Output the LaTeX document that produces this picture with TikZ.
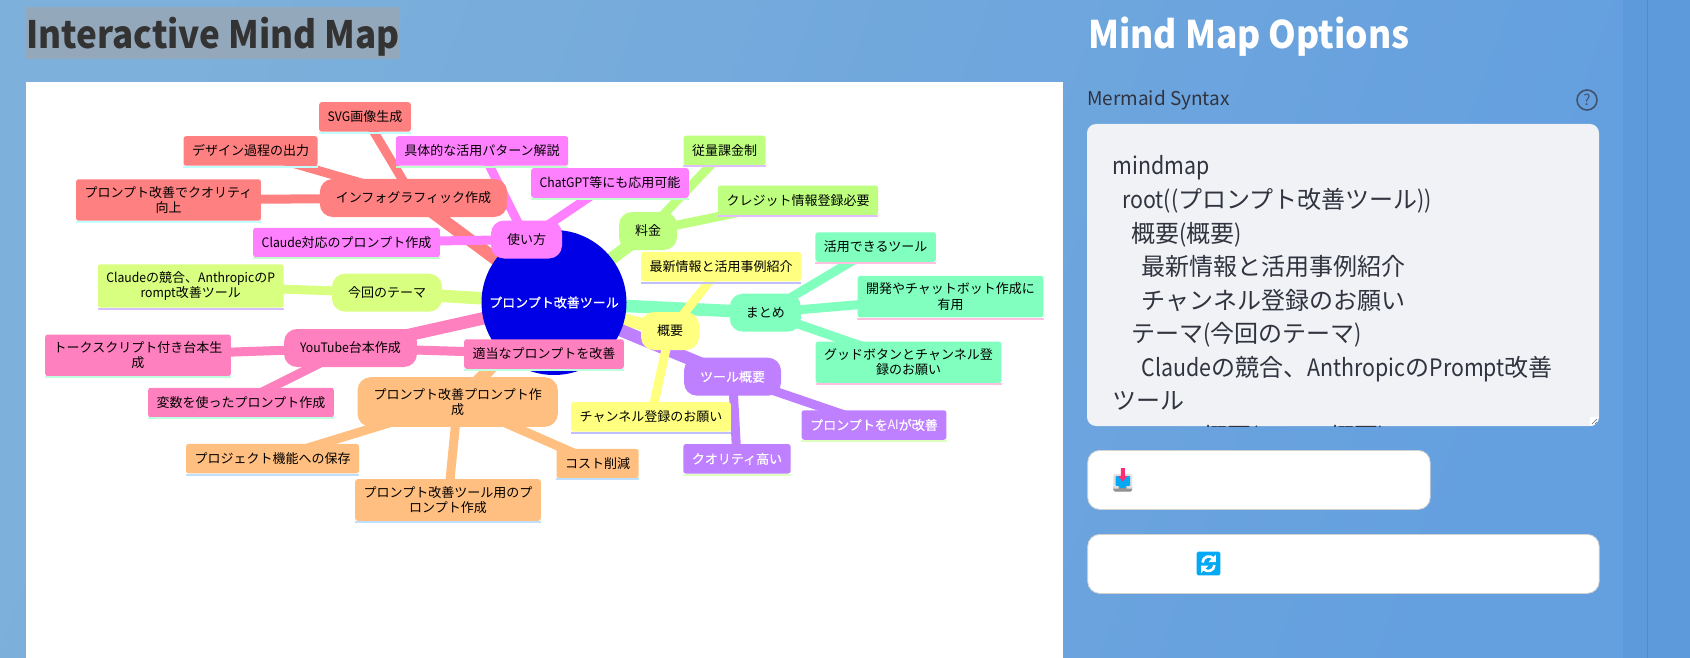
\documentclass[tikz,border=0pt]{standalone}
\usepackage{fontspec}
\setmainfont{Noto Sans CJK JP}
\newfontfamily\latf[FakeStretch=0.94]{Noto Sans CJK JP}
\newfontfamily\codef[FakeStretch=0.89]{Noto Sans CJK JP}
\newfontfamily\headf[FakeStretch=0.93]{Noto Sans CJK JP}
\newfontfamily\whitef[FakeBold=0.5]{Noto Sans CJK JP}
\newcommand{\lat}[1]{{\latf #1}}
\newcommand{\cod}[1]{{\codef #1}}
\definecolor{bgA}{HTML}{7DB0DA}
\definecolor{bgB}{HTML}{649FDF}
\definecolor{stripbg}{HTML}{5C9ADC}
\definecolor{stripline}{HTML}{4F8CC9}
\definecolor{inkdark}{HTML}{31333F}
\definecolor{titlemark}{HTML}{94A8BC}
\definecolor{boxgray}{HTML}{F0F2F6}
\definecolor{iconblue}{HTML}{03A9F4}
\definecolor{iconred}{HTML}{FF2D6F}
\definecolor{rootblue}{HTML}{0000E6}
\definecolor{salmon}{HTML}{FF8080}
\definecolor{salmonb}{HTML}{BFFFFF}
\definecolor{magen}{HTML}{FF80FF}
\definecolor{magenb}{HTML}{BFFFCF}
\definecolor{limey}{HTML}{D9FF80}
\definecolor{limeyb}{HTML}{D4BFFF}
\definecolor{rosy}{HTML}{FF80BF}
\definecolor{rosyb}{HTML}{BFFFDF}
\definecolor{orng}{HTML}{FFBF80}
\definecolor{orngb}{HTML}{BFDFFF}
\definecolor{leafg}{HTML}{BFFF80}
\definecolor{leafgb}{HTML}{DFBFFF}
\definecolor{aqua}{HTML}{80FFBF}
\definecolor{aquab}{HTML}{FFBFDF}
\definecolor{yelo}{HTML}{FFFF80}
\definecolor{yelob}{HTML}{BFBFFF}
\definecolor{purp}{HTML}{BF80FF}
\definecolor{purpb}{HTML}{DFFFBF}
\pgfdeclarelayer{page}
\pgfdeclarelayer{edges}
\pgfsetlayers{page,edges,main}
\tikzset{
  mapfont/.style={font=\fontsize{13}{15.5}\selectfont,align=center},
  whitefont/.style={font=\fontsize{13}{15.5}\whitef\selectfont,text=white},
  branch/.style={mapfont,fill=#1,rounded corners=13,inner xsep=16,inner ysep=11,minimum height=38,text=black},
  leaf/.style 2 args={mapfont,fill=#1,rounded corners=2.5,inner xsep=8.5,inner ysep=7,minimum height=29.5,text=black,
    append after command={([yshift=-1]\tikzlastnode.south west) edge[draw=#2,line width=2] ([yshift=-1]\tikzlastnode.south east)}},
  trunk/.style={line width=12.5,draw=#1},
  twig/.style={line width=9,draw=#1},
  codeline/.style={anchor=base west,inner sep=0,text=inkdark,font=\fontsize{24}{24}\selectfont},
  button/.style={draw=black!18,fill=white,rounded corners=12,line width=0.8,anchor=north west,inner sep=0},
}
\begin{document}
\begin{tikzpicture}[x=1pt,y=-1pt]
\useasboundingbox (0,0) rectangle (1690,658);
\begin{pgfonlayer}{page}
\shade[left color=bgA,right color=bgB,shading angle=70] (0,0) rectangle (1623,658);
\fill[stripbg] (1623,0) rectangle (1690,658);
\draw[stripline,line width=0.8] (1647,0) -- (1647,658);
\fill[white] (26,82) rectangle (1063,658);
\fill[titlemark] (26,7.5) rectangle (399,59.5);
\end{pgfonlayer}

\node[anchor=base west,inner sep=0,text=black!80,font=\fontsize{37.7}{38}\headf\selectfont\bfseries] (maptitle) at (26,48.3) {Interactive Mind Map};
\node[anchor=base west,inner sep=0,text=white,font=\fontsize{38}{38}\headf\selectfont\bfseries] (optiontitle) at (1088,48.3) {Mind Map Options};
\node[anchor=base west,inner sep=0,text=inkdark,font=\fontsize{19}{19}\selectfont] (syntaxlabel) at (1087,106) {Mermaid Syntax};
\node[circle,draw=inkdark!70!bgB,line width=1.6,minimum size=20,inner sep=0,text=inkdark!70!bgB,font=\fontsize{15}{15}\selectfont] (helpicon) at (1587,100) {?};

% map
\node[circle,fill=rootblue,minimum size=145,inner sep=0,mapfont,whitefont] (root) at (554,302.5) {プロンプト改善ツール};

\node[branch=salmon] (info) at (413.5,198) {インフォグラフィック作成};
\node[leaf={salmon}{salmonb}] (svg) at (365,117) {\lat{SVG}画像生成};
\node[leaf={salmon}{salmonb}] (design) at (250.5,151) {デザイン過程の出力};
\node[leaf={salmon}{salmonb}] (quality) at (168.5,200) {プロンプト改善でクオリティ\\向上};

\node[branch=magen] (usage) at (526.5,239.5) {使い方};
\node[leaf={magen}{magenb}] (pattern) at (482,151) {具体的な活用パターン解説};
\node[leaf={magen}{magenb}] (chatgpt) at (610,183) {\lat{ChatGPT}等にも応用可能};
\node[leaf={magen}{magenb}] (claudeuse) at (346.5,242.5) {\lat{Claude}対応のプロンプト作成};

\node[branch=limey] (theme) at (387,292.7) {今回のテーマ};
\node[leaf={limey}{limeyb}] (rival) at (190.7,286) {\lat{Claude}の競合、\lat{Anthropic}の\lat{P}\\\lat{rompt}改善ツール};

\node[branch=rosy] (youtube) at (350.5,348) {\lat{YouTube}台本作成};
\node[leaf={rosy}{rosyb}] (script) at (138,355.3) {トークスクリプト付き台本生\\成};
\node[leaf={rosy}{rosyb}] (fit) at (544,354) {適当なプロンプトを改善};
\node[leaf={rosy}{rosyb}] (vars) at (241,402.5) {変数を使ったプロンプト作成};

\node[branch=orng] (improve) at (457.7,402) {プロンプト改善プロンプト作\\成};
\node[leaf={orng}{orngb}] (save) at (272.5,458.7) {プロジェクト機能への保存};
\node[leaf={orng}{orngb}] (cost) at (597.5,463.5) {コスト削減};
\node[leaf={orng}{orngb}] (spec) at (448,500) {プロンプト改善ツール用のプ\\ロンプト作成};

\node[branch=leafg] (fee) at (648,231) {料金};
\node[leaf={leafg}{leafgb}] (meter) at (724.5,150.5) {従量課金制};
\node[leaf={leafg}{leafgb}] (credit) at (798,200.3) {クレジット情報登録必要};

\node[branch=aqua] (wrapup) at (765.3,312.7) {まとめ};
\node[leaf={aqua}{aquab}] (tools) at (875.7,247) {活用できるツール};
\node[leaf={aqua}{aquab}] (devbot) at (950.5,296.7) {開発やチャットボット作成に\\有用};
\node[leaf={aqua}{aquab}] (goodbtn) at (908.5,362.3) {グッドボタンとチャンネル登\\録のお願い};

\node[branch=yelo] (outline) at (670,331) {概要};
\node[leaf={yelo}{yelob}] (news) at (721,266.7) {最新情報と活用事例紹介};
\node[leaf={yelo}{yelob}] (channel) at (651,416.8) {チャンネル登録のお願い};

\node[branch=purp,whitefont] (toolsum) at (732.5,376.7) {ツール概要};
\node[leaf={purp}{purpb},whitefont] (byai) at (874,425) {プロンプトを\lat{AI}が改善};
\node[leaf={purp}{purpb},whitefont] (highq) at (737,458.8) {クオリティ高い};

\begin{pgfonlayer}{edges}
\draw[trunk=salmon] (root.center) -- (info.center);
\draw[trunk=magen] (root.center) -- (usage.center);
\draw[trunk=limey] (root.center) -- (theme.center);
\draw[trunk=rosy] (root.center) -- (youtube.center);
\draw[trunk=orng] (root.center) -- (improve.center);
\draw[trunk=leafg] (root.center) -- (fee.center);
\draw[trunk=aqua] (root.center) -- (wrapup.center);
\draw[trunk=yelo] (root.center) -- (outline.center);
\draw[trunk=purp] (root.center) -- (toolsum.center);
\foreach \from/\to in {info/svg,info/design,info/quality}
  \draw[twig=salmon] (\from.center) -- (\to.center);
\foreach \from/\to in {usage/pattern,usage/chatgpt,usage/claudeuse}
  \draw[twig=magen] (\from.center) -- (\to.center);
\draw[twig=limey] (theme.center) -- (rival.center);
\foreach \from/\to in {youtube/script,youtube/fit,youtube/vars}
  \draw[twig=rosy] (\from.center) -- (\to.center);
\foreach \from/\to in {improve/save,improve/cost,improve/spec}
  \draw[twig=orng] (\from.center) -- (\to.center);
\foreach \from/\to in {fee/meter,fee/credit}
  \draw[twig=leafg] (\from.center) -- (\to.center);
\foreach \from/\to in {wrapup/tools,wrapup/devbot,wrapup/goodbtn}
  \draw[twig=aqua] (\from.center) -- (\to.center);
\foreach \from/\to in {outline/news,outline/channel}
  \draw[twig=yelo] (\from.center) -- (\to.center);
\foreach \from/\to in {toolsum/byai,toolsum/highq}
  \draw[twig=purp] (\from.center) -- (\to.center);
\end{pgfonlayer}

% syntax box
\fill[boxgray,rounded corners=9] (1087,124) rectangle (1599,426);
\begin{scope}
\clip[rounded corners=9] (1087,124) rectangle (1599,426);
\node[codeline] (lineA) at (1112.6,175) {\cod{mindmap}};
\node[codeline] (lineB) at (1122,208.5) {\cod{root((}プロンプト改善ツール\cod{))}};
\node[codeline] (lineC) at (1131.5,242) {概要\cod{(}概要\cod{)}};
\node[codeline] (lineD) at (1141.6,275.5) {最新情報と活用事例紹介};
\node[codeline] (lineE) at (1141.6,309) {チャンネル登録のお願い};
\node[codeline] (lineF) at (1131.5,342.5) {テーマ\cod{(}今回のテーマ\cod{)}};
\node[codeline] (lineG) at (1141.6,376) {\cod{Claude}の競合、\cod{Anthropic}の\cod{Prompt}改善};
\node[codeline] (lineH) at (1112.6,409.5) {ツール};
\node[codeline] (lineI) at (1131.5,445.6) {ツール概要\cod{(}ツール概要\cod{)}};
\fill[white] (1590,417) rectangle (1599,426);
\draw[black!60,line width=0.6] (1592,424) -- (1597,419) (1595,424) -- (1597,422);
\end{scope}

% buttons
\node[button,minimum width=342.5,minimum height=59] (savebtn) at (1087.3,450) {};
\node[button,minimum width=511.5,minimum height=59] (resetbtn) at (1087.3,534) {};

% inbox icon
\fill[black!12,rounded corners=1.5] (1113.4,474) rectangle (1132,491.5);
\fill[black!42,rounded corners=1.5] (1113.4,486) rectangle (1132,491.5);
\fill[iconblue,rounded corners=1] (1115.5,476) rectangle (1130,486);
\fill[iconblue] (1119,486) -- (1126,486) -- (1124.5,488) -- (1120.5,488) -- cycle;
\fill[black!12] (1113.4,486) rectangle (1118.5,488.5) (1126.5,486) rectangle (1132,488.5);
\fill[iconred] (1120.8,468) rectangle (1124.8,476) (1118.2,476) -- (1127.4,476) -- (1122.8,481.5) -- cycle;

% refresh icon
\fill[iconblue,rounded corners=1.5] (1196.6,551.7) rectangle (1220.3,575.3);
\draw[white,line width=2.6] (1202.6,562.5) .. controls (1202.6,556.5) and (1210,554.5) .. (1213.5,558.5);
\draw[white,line width=2.6] (1214.4,565) .. controls (1214.4,571) and (1207,573) .. (1203.5,569);
\fill[white] (1215.8,554.5) -- (1215.8,562) -- (1208.5,562) -- cycle;
\fill[white] (1201.2,573) -- (1201.2,565.5) -- (1208.5,565.5) -- cycle;
\end{tikzpicture}
\end{document}
